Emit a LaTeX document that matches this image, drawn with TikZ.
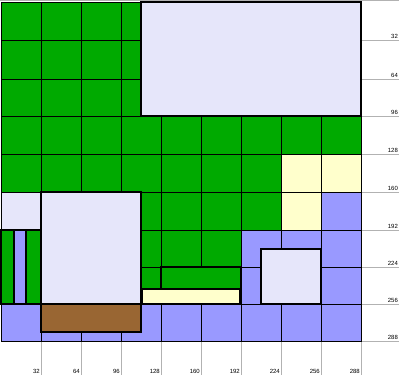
\documentclass[tikz,border=0pt]{standalone}
\usepackage{fontspec}
\setmainfont{Liberation Sans}
\definecolor{grn}{HTML}{00AA00}
\definecolor{lav}{HTML}{E6E6FA}
\definecolor{blu}{HTML}{9999FF}
\definecolor{crm}{HTML}{FFFFCC}
\definecolor{brn}{HTML}{996633}
\def\xs{{1,41,81,121,161,201,241,281,321,361}}
\def\ys{{2,40,79,116,154,192,230,267,304,341}}
\newcommand\mycell[3]{%
  \pgfmathsetmacro\xa{\xs[#1]}\pgfmathsetmacro\xb{\xs[#1+1]}%
  \pgfmathsetmacro\ya{\ys[#2]}\pgfmathsetmacro\yb{\ys[#2+1]}%
  \draw[cell,fill=#3] (\xa,\ya) rectangle (\xb,\yb);}
\begin{document}
\begin{tikzpicture}[x=1pt,y=-1pt,
  cell/.style={draw=black,line width=0.8pt},
  box/.style={draw=black,line width=1.1pt},
  thickbox/.style={draw=black,line width=1.7pt},
  axis/.style={draw=black!30,line width=0.8pt},
  lab/.style={font=\fontsize{6}{6}\selectfont,inner sep=0.4pt}]
\useasboundingbox (0,0) rectangle (399,375);
% axes
\draw[axis] (0,0.5) -- (399,0.5);
\foreach \i/\v in {1/32,2/64,3/96,4/128,5/160,6/192,7/224,8/256,9/288}{
  \pgfmathsetmacro\yy{\ys[\i]}
  \pgfmathsetmacro\xx{\xs[\i]}
  \draw[axis] (361,\yy) -- (399,\yy);
  \node[lab,anchor=south east] (ry\i) at (398.5,\yy-0.6) {\v};
  \draw[axis] (\xx,341) -- (\xx,375);
  \node[lab,anchor=south east] (bx\i) at (\xx-0.6,374.5) {\v};
}
% grid cells
\foreach \r in {0,1,2} \foreach \c in {0,...,3} {\mycell{\c}{\r}{grn}}
\foreach \c in {0,...,8} {\mycell{\c}{3}{grn}}
\foreach \c in {0,...,6} {\mycell{\c}{4}{grn}}
\foreach \c in {7,8} {\mycell{\c}{4}{crm}}
\mycell{0}{5}{lav}
\foreach \c in {1,...,6} {\mycell{\c}{5}{grn}}
\mycell{7}{5}{crm}
\mycell{8}{5}{blu}
\foreach \r in {6,7} {
  \foreach \c in {1,...,5} {\mycell{\c}{\r}{grn}}
  \foreach \c in {6,7,8} {\mycell{\c}{\r}{blu}}
}
\foreach \c in {0,...,8} {\mycell{\c}{8}{blu}}
% overlays
\draw[thickbox,fill=lav] (141,2) rectangle (361,116);
\draw[box,fill=lav] (41,192) rectangle (141,304);
\draw[thickbox,fill=grn] (1,230) rectangle (41,304);
\draw[thickbox,fill=blu] (14,230) rectangle (26,304);
\draw[box,fill=brn] (41,304) rectangle (141,332);
\draw[thickbox,fill=grn] (161,267) rectangle (241,289);
\draw[thickbox,fill=crm] (142,289) rectangle (240,304);
\draw[box,fill=lav] (261,249) rectangle (321,304);
\end{tikzpicture}
\end{document}
